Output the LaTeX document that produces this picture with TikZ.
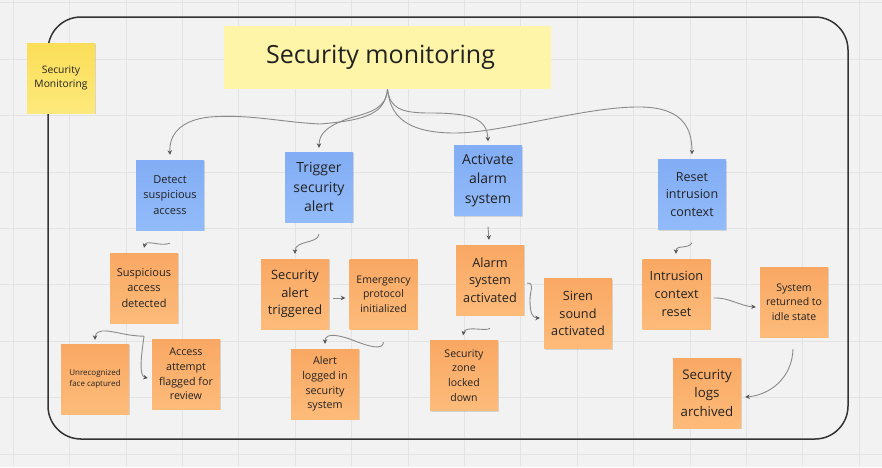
\documentclass[tikz,border=0pt]{standalone}
\usepackage{fontspec}
\setmainfont{Open Sans}
\usetikzlibrary{arrows.meta,shadows,calc}
\definecolor{bgc}{HTML}{F2F2F2}
\definecolor{gridc}{HTML}{E3E3E3}
\definecolor{framec}{HTML}{333333}
\definecolor{txtc}{HTML}{222222}
\definecolor{linkc}{HTML}{8A8A8A}
\definecolor{tipc}{HTML}{555555}
\definecolor{orA}{HTML}{F9A863}
\definecolor{orB}{HTML}{FDBB7A}
\definecolor{blA}{HTML}{83ADF4}
\definecolor{blB}{HTML}{91BBF9}
\definecolor{yeA}{HTML}{FBDE58}
\definecolor{yeB}{HTML}{FDE97C}
\definecolor{titlec}{HTML}{FFF5A8}
\newcommand\fsz[2]{\fontsize{#1}{#2}\selectfont}
\begin{document}
\begin{tikzpicture}[x=1pt,y=-1pt,
  sticky/.style={rectangle, inner sep=1pt, minimum width=68pt, minimum height=70pt,
    align=center, text=txtc,
    drop shadow={shadow xshift=0.6pt, shadow yshift=-1.4pt, fill=black, opacity=0.12}},
  orangebox/.style={sticky, top color=orA, bottom color=orB},
  bluebox/.style={sticky, top color=blA, bottom color=blB},
  yellowbox/.style={sticky, top color=yeA, bottom color=yeB},
  fs/.style 2 args={font=\fsz{#1}{#2}},
  link/.style={draw=linkc, line width=0.9pt, -{Stealth[length=4.5pt,width=4.5pt,color=tipc]}}
]
% background
\fill[bgc] (0,0) rectangle (882,467);
\useasboundingbox (0,0) rectangle (882,467);
\foreach \i in {0,...,15} {\draw[gridc, line width=0.9pt] ({13.3+56.4*\i},0) -- ({13.3+56.4*\i},467);}
\foreach \j in {0,...,8} {\draw[gridc, line width=0.9pt] (0,{2.9+56.4*\j}) -- (882,{2.9+56.4*\j});}
% frame
\draw[framec, line width=1.5pt, rounded corners=33pt] (48,17) rectangle (848,439);

% nodes
\node[yellowbox, fs={10.3}{14.3}] (mon) at (61,78) {Security\\Monitoring};
\node[rectangle, fill=titlec, minimum width=327pt, minimum height=63pt, text=txtc, fs={25}{30}] (title) at (387.5,57.5) {Security monitoring\hspace*{14pt}};

\node[bluebox, fs={11}{15.3}] (detect) at (170,195) {Detect\\suspicious\\access};
\node[bluebox, fs={14}{19.6}] (trigger) at (319,187) {Trigger\\security\\alert};
\node[bluebox, fs={14}{19.6}] (activate) at (488,180.5) {Activate\\alarm\\system};
\node[bluebox, fs={12.5}{17.7}] (reset) at (692,194.5) {Reset\\intrusion\\context};

\node[orangebox, fs={11}{15.3}] (sad) at (144,288) {Suspicious\\access\\detected};
\node[orangebox, fs={8}{11}] (unrec) at (95,379) {Unrecognized\\face captured};
\node[orangebox, fs={10.7}{14.7}] (access) at (186,374) {Access\\attempt\\flagged for\\review};
\node[orangebox, fs={12.8}{17.5}] (sat) at (295,294) {Security\\alert\\triggered};
\node[orangebox, fs={10.5}{14.5}] (emerg) at (383.5,294) {Emergency\\protocol\\initialized};
\node[orangebox, fs={10.7}{14.7}] (alert) at (325,384) {Alert\\logged in\\security\\system};
\node[orangebox, fs={12.7}{17.7}] (alarm) at (490,280) {Alarm\\system\\activated};
\node[orangebox, fs={12.7}{17.5}] (siren) at (578,313.5) {Siren\\sound\\activated};
\node[orangebox, fs={10.5}{14.7}] (zone) at (464,375.5) {Security\\zone\\locked\\down};
\node[orangebox, fs={12.7}{17.8}] (icr) at (676.5,294) {Intrusion\\context\\reset};
\node[orangebox, fs={10.5}{14.7}] (sys) at (794,302) {System\\returned to\\idle state};
\node[orangebox, fs={13.3}{18.5}] (logs) at (707,393) {Security\\logs\\archived};

% connectors from title
\draw[link] (title.south) .. controls (385,112) and (370,120) .. (320,124)
  .. controls (280,122) and (250,114) .. (210,117)
  .. controls (180,120) and (169,135) .. ([yshift=5pt]detect.north);
\draw[link] (title.south) .. controls (386,108) and (372,112) .. (350,118)
  .. controls (330,125) and (319,132) .. ([yshift=4pt]trigger.north);
\draw[link] (title.south) .. controls (390,108) and (400,113) .. (430,113)
  .. controls (470,113) and (487,118) .. ([yshift=4pt]activate.north);
\draw[link] (title.south) .. controls (390,115) and (405,133) .. (455,133)
  .. controls (500,133) and (580,108) .. (635,107)
  .. controls (680,106) and (692,125) .. ([yshift=5pt]reset.north);

% other connectors
\draw[link] ([yshift=-13pt]detect.south) .. controls (160,247) and (146,239) .. ([yshift=5pt]sad.north);
\draw[link] ([yshift=-12pt]trigger.south) .. controls (318,244) and (295,240) .. ([yshift=5pt]sat.north);
\draw[link] ([yshift=-13pt]sad.south) .. controls (125,336) and (112,330) .. (102,331)
  .. controls (96,332) and (95,335) .. ([yshift=4pt]unrec.north);
\draw[link] ([yshift=-13pt]sad.south) .. controls (142,352) and (138,376) .. ([xshift=-4pt,yshift=-4pt]access.west);
\draw[link] ([xshift=4pt,yshift=-4pt]sat.east) -- ([xshift=-4pt,yshift=-4pt]emerg.west);
\draw[link] ([yshift=-13pt]emerg.south) .. controls (383,350) and (370,347) .. (355,341)
  .. controls (340,335) and (325,332) .. ([yshift=5pt]alert.north);
\draw[link] ([yshift=-11pt]activate.south) -- ([xshift=-1pt,yshift=5pt]alarm.north);
\draw[link] ([xshift=3pt,yshift=-3pt]alarm.east) .. controls (535,283) and (530,290) .. (530,300)
  .. controls (530,312) and (532,318) .. ([xshift=-4pt,yshift=-4.5pt]siren.west);
\draw[link] ([yshift=-13pt]alarm.south) .. controls (487,332) and (465,325) .. ([xshift=-1pt,yshift=5pt]zone.north);
\draw[link] ([yshift=-13pt]reset.south) .. controls (688,250) and (676,244) .. ([xshift=-0.5pt,yshift=5pt]icr.north);
\draw[link] ([xshift=3pt,yshift=-4pt]icr.east) .. controls (728,297) and (740,306) .. ([xshift=-4pt,yshift=-5pt]sys.west);
\draw[link] ([xshift=-1pt,yshift=-12pt]sys.south) .. controls (792,378) and (770,395) .. ([xshift=4pt,yshift=-4pt]logs.east);
\end{tikzpicture}
\end{document}
